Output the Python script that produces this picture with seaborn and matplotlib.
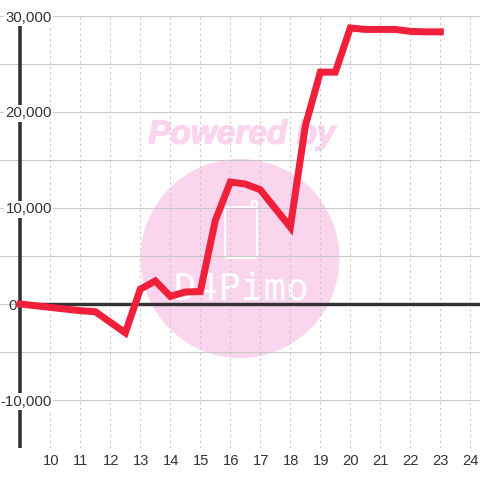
"""Line chart with a pale watermark behind it, drawn with seaborn."""

import matplotlib

matplotlib.use("Agg")

import matplotlib.patheffects as pe
import matplotlib.pyplot as plt
import pandas as pd
import seaborn as sns
from matplotlib.patches import Circle, FancyBboxPatch
from matplotlib.transforms import IdentityTransform, blended_transform_factory

HOURS = [9, 10, 11, 11.5, 12.5, 13, 13.5, 14, 14.5, 15, 15.5, 16, 16.5, 17, 18,
         18.5, 19, 19.5, 20, 20.5, 21.5, 22, 22.5, 23]
VALUES = [0, -350, -700, -800, -3000, 1550, 2400, 800, 1250, 1300, 8700, 12700, 12500, 11900, 8000,
          18550, 24150, 24150, 28750, 28600, 28600, 28400, 28350, 28350]

Y_TICKS = [-10000, 10000, 20000, 30000]
Y_GRID = [-15000, -10000, -5000, 0, 5000, 10000, 15000, 20000, 25000, 30000]
X_TICKS = list(range(10, 25))

INK = "#333333"
GRID = "#c8c8c8"
RED = "#f01f3a"
PINK = "#fbd5ee"

# 30 px per hour, 96 px per 10,000
X_MIN, X_MAX = 8.323, 24.323
Y_MIN, Y_MAX = -15000, 30000
PX = 72 / 100

sns.set_style("white")
plt.rcParams["font.family"] = ["Liberation Sans", "DejaVu Sans"]

fig = plt.figure(figsize=(4.8, 4.8), dpi=100)
ax = fig.add_axes([0, 32 / 480, 1, 432 / 480])
ax.set_xlim(X_MIN, X_MAX)
ax.set_ylim(Y_MIN, Y_MAX)
for side in ax.spines.values():
    side.set_visible(False)
ax.set_xticks([])
ax.set_yticks([])

pixels = IdentityTransform()
left_px = blended_transform_factory(pixels, ax.transData)
bottom_px = blended_transform_factory(ax.transData, pixels)

# watermark
ax.add_patch(Circle((240, 480 - 258.5), 99.5, transform=pixels, color=PINK, lw=0, zorder=1))
ax.text(242, 480 - 135, "Powered by", transform=pixels, color=PINK, fontsize=24,
        fontweight="bold", fontstyle="italic", ha="center", va="center", zorder=1,
        path_effects=[pe.withStroke(linewidth=1, foreground=PINK)])
ax.add_patch(FancyBboxPatch((228, 480 - 255), 26, 45, boxstyle="round,pad=3,rounding_size=4",
                            transform=pixels, fill=False, ec="white", lw=1.5, zorder=1))
ax.add_patch(FancyBboxPatch((253, 480 - 207), 3, 5, boxstyle="round,pad=1,rounding_size=2",
                            transform=pixels, fill=False, ec="white", lw=1.5, zorder=1))
ax.text(241, 480 - 289, "D4Pimo", transform=pixels, color="white", fontsize=27,
        family="DejaVu Sans Mono", ha="center", va="center", zorder=1)

# grid
for y in Y_GRID:
    ax.axhline(y, color=GRID, lw=1.1 * PX, zorder=2)
for x in X_TICKS:
    ax.axvline(x, color=GRID, lw=1.1 * PX, ls=(0, (2, 3)), zorder=2)

# axis lines
ax.plot([9, 9], [Y_MIN, 29200], color=INK, lw=3.6 * PX, zorder=3, solid_capstyle="butt")
ax.axhline(0, xmin=(9 - X_MIN) / (X_MAX - X_MIN), color=INK, lw=3.4 * PX, zorder=3)

# tick labels sit on white boxes that cut the axis line
for y in Y_TICKS:
    ax.text(52, y, f"{y:,}", transform=left_px, color=INK, fontsize=10.8, ha="right",
            va="center_baseline", zorder=4, bbox=dict(facecolor="white", edgecolor="none", pad=1))
ax.text(17, 0, "0", transform=left_px, color=INK, fontsize=10.8, ha="right", va="center_baseline", zorder=4)
for x in X_TICKS:
    ax.text(x + 0.02, 480 - 461, str(x), transform=bottom_px, color=INK, fontsize=10.6, ha="center", va="center")

data = pd.DataFrame({"hour": HOURS, "value": VALUES})
sns.lineplot(data=data, x="hour", y="value", color=RED, lw=7 * PX, ax=ax, zorder=5, errorbar=None)
ax.lines[-1].set_solid_joinstyle("miter")
ax.lines[-1].set_solid_capstyle("projecting")
ax.set_xlabel("")
ax.set_ylabel("")

fig.savefig("out.png", dpi=100, facecolor="white")
